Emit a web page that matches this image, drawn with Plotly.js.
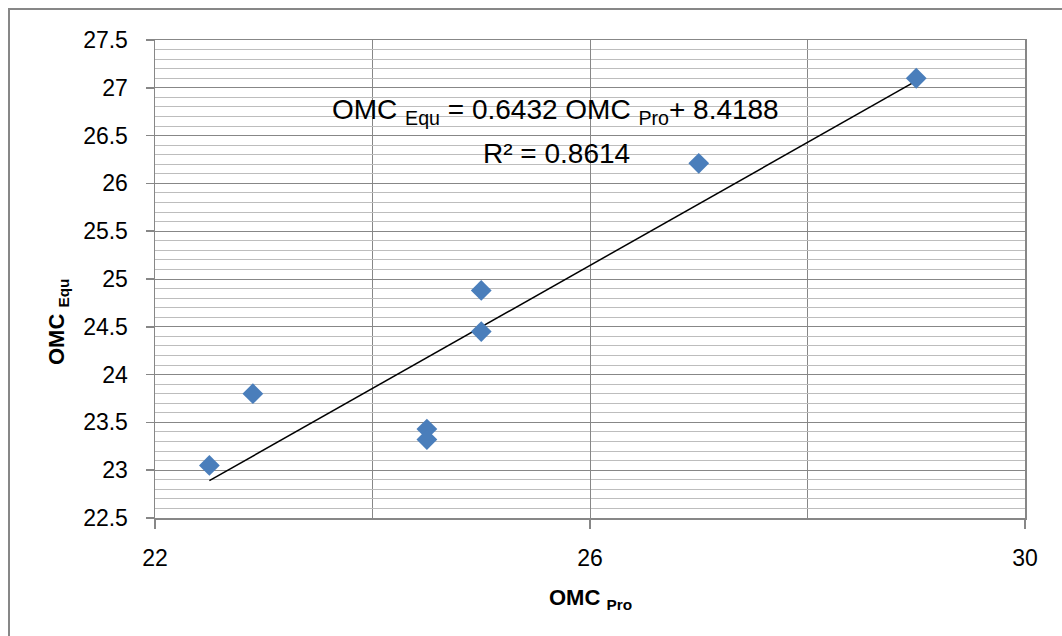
<!DOCTYPE html>
<html>
<head>
<meta charset="utf-8">
<script src="https://cdn.plot.ly/plotly-3.0.1.min.js"></script>
<style>
  html, body { margin: 0; padding: 0; width: 1062px; height: 636px; overflow: hidden; background: #fff; }
  #frame { position: absolute; left: 8px; top: 8px; width: 1100px; height: 700px; border: 2px solid #878787; box-sizing: border-box; pointer-events: none; z-index: 5; }
  #chart { position: absolute; left: 0; top: 0; width: 1062px; height: 636px; }
</style>
</head>
<body>
<div id="chart"></div>
<div id="frame"></div>
<script>
// Data
const xPro = [22.5, 22.9, 24.5, 24.5, 25.0, 25.0, 27.0, 29.0];
const yEqu = [23.05, 23.80, 23.43, 23.32, 24.88, 24.45, 26.21, 27.10];

// Linear trendline as displayed on the chart
const slope = 0.6432;
const intercept = 8.4188;
const r2 = 0.8614;

const xTickVals = [22, 26, 30];
const xTickText = ['22', '26', '30'];
const yTickVals = [22.5, 23, 23.5, 24, 24.5, 25, 25.5, 26, 26.5, 27, 27.5];
const yTickText = ['22.5', '23', '23.5', '24', '24.5', '25', '25.5', '26', '26.5', '27', '27.5'];

const xMin = Math.min(...xPro), xMax = Math.max(...xPro);
const trendX = [xMin, xMax];
const trendY = trendX.map(v => slope * v + intercept);

const FONT = 'Liberation Sans, Arial, sans-serif';
const MAJOR = '#878787';
const MINOR = '#bdbdbd';

const traces = [
  {
    x: trendX, y: trendY, type: 'scatter', mode: 'lines',
    line: {color: '#000000', width: 1.5}, hoverinfo: 'skip', showlegend: false
  },
  {
    x: xPro, y: yEqu, type: 'scatter', mode: 'markers',
    marker: {symbol: 'diamond', size: 16, color: '#4a7ebb', line: {width: 0}},
    showlegend: false
  }
];

const layout = {
  width: 1062, height: 636,
  margin: {l: 155, r: 37, t: 40, b: 118},
  paper_bgcolor: '#ffffff', plot_bgcolor: '#ffffff',
  font: {family: FONT, color: '#000000'},
  showlegend: false,
  xaxis: {
    range: [22, 30], tickmode: 'array', tickvals: xTickVals, ticktext: xTickText,
    showgrid: true, gridcolor: MAJOR, gridwidth: 1,
    minor: {dtick: 2, tick0: 22, showgrid: true, gridcolor: MAJOR, gridwidth: 1, ticks: ''},
    showline: true, linecolor: MAJOR, linewidth: 1.5, mirror: true,
    ticks: 'outside', ticklen: 9, tickcolor: MAJOR, tickwidth: 1.5,
    tickfont: {size: 23, family: FONT, color: '#000'},
    ticklabelstandoff: 10,
    zeroline: false
  },
  yaxis: {
    range: [22.5, 27.5], tickmode: 'array', tickvals: yTickVals, ticktext: yTickText,
    showgrid: true, gridcolor: MAJOR, gridwidth: 1,
    minor: {dtick: 0.1, tick0: 22.5, showgrid: true, gridcolor: MINOR, gridwidth: 1, ticks: ''},
    showline: true, linecolor: MAJOR, linewidth: 1.5, mirror: true,
    ticks: 'outside', ticklen: 8, tickcolor: MAJOR, tickwidth: 1.5,
    tickfont: {size: 23, family: FONT, color: '#000'},
    ticklabelstandoff: 13,
    zeroline: false
  },
  annotations: [
    {
      text: 'OMC <sub>Equ</sub> = ' + slope.toFixed(4) + ' OMC <sub>Pro</sub>+ ' + intercept.toFixed(4),
      xref: 'paper', yref: 'paper', x: (555 - 155) / 870, y: (518 - 112) / 478,
      xanchor: 'center', yanchor: 'middle', showarrow: false,
      font: {size: 28, family: FONT, color: '#000'}
    },
    {
      text: 'R² = ' + r2.toFixed(4),
      xref: 'paper', yref: 'paper', x: (556 - 155) / 870, y: (518 - 153) / 478,
      xanchor: 'center', yanchor: 'middle', showarrow: false,
      font: {size: 28, family: FONT, color: '#000'}
    },
    {
      text: '<b>OMC <sub>Pro</sub></b>',
      xref: 'paper', yref: 'paper', x: (590 - 155) / 870, y: (518 - 599) / 478,
      xanchor: 'center', yanchor: 'middle', showarrow: false,
      font: {size: 22, family: FONT, color: '#000'}
    },
    {
      text: '<b>OMC <sub>Equ</sub></b>',
      xref: 'paper', yref: 'paper', x: (58 - 155) / 870, y: (518 - 322) / 478,
      xanchor: 'center', yanchor: 'middle', showarrow: false, textangle: -90,
      font: {size: 22, family: FONT, color: '#000'}
    }
  ]
};

Plotly.newPlot('chart', traces, layout, {displayModeBar: false, staticPlot: true});
</script>
</body>
</html>
